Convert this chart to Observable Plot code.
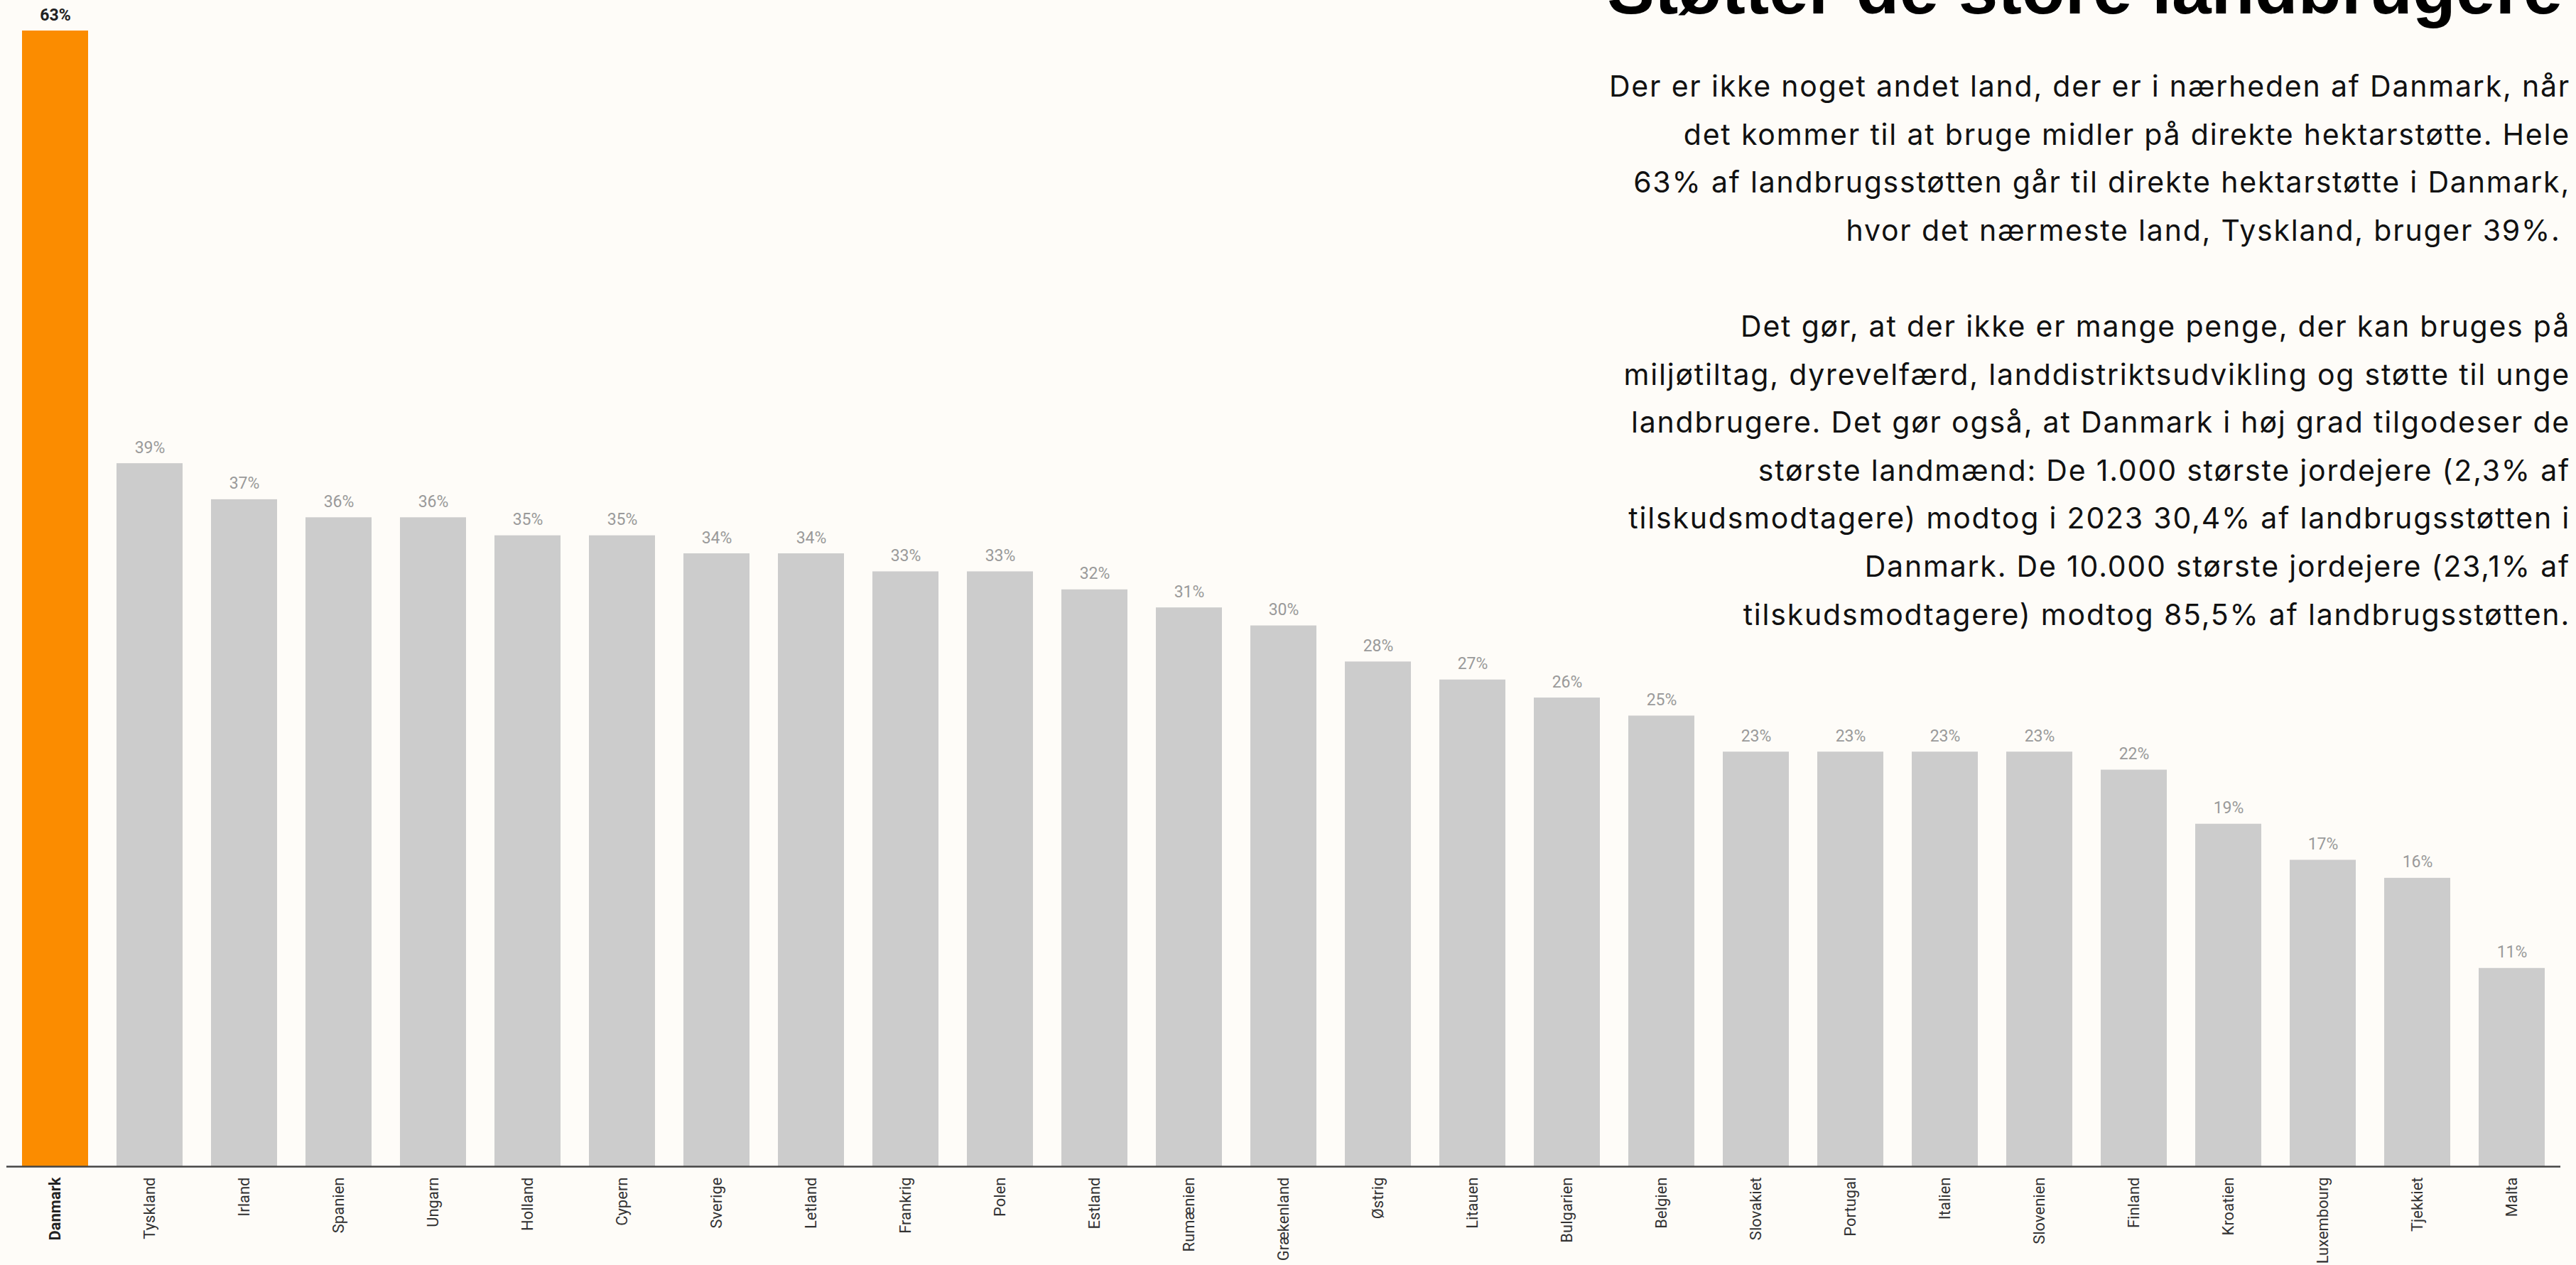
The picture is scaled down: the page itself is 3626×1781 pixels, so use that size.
<!DOCTYPE html>
<html>
<head>
<meta charset="utf-8">
<script src="https://cdn.jsdelivr.net/npm/d3@7"></script>
<script src="https://cdn.jsdelivr.net/npm/@observablehq/plot@0.6"></script>
<style>
  html, body { margin: 0; padding: 0; background: #fefcf8; overflow: hidden; }
  #wrap { position: relative; width: 3626px; height: 1781px; }
  #chart { position: absolute; left: 0; top: 0; }
  #title {
    position: absolute; right: 19px; top: -66px;
    font-family: "Liberation Sans", Arial, sans-serif; font-weight: bold;
    font-size: 100px; line-height: 1; color: #000; white-space: nowrap;
  }
  #text {
    position: absolute; right: 8px; top: 88px;
    font-family: Inter, sans-serif; font-size: 41px; line-height: 67.6px;
    letter-spacing: 1.8px; color: #111; text-align: right; white-space: nowrap;
  }
</style>
</head>
<body>
<div id="wrap">
  <div id="chart"></div>
  <div id="title">Støtter de store landbrugere</div>
  <div id="text">
    Der er ikke noget andet land, der er i nærheden af Danmark, når<br>
    det kommer til at bruge midler på direkte hektarstøtte. Hele<br>
    63% af landbrugsstøtten går til direkte hektarstøtte i Danmark,<br>
    hvor det nærmeste land, Tyskland, bruger 39%.&nbsp;<br>
    <br>
    Det gør, at der ikke er mange penge, der kan bruges på<br>
    miljøtiltag, dyrevelfærd, landdistriktsudvikling og støtte til unge<br>
    landbrugere. Det gør også, at Danmark i høj grad tilgodeser de<br>
    største landmænd: De 1.000 største jordejere (2,3% af<br>
    tilskudsmodtagere) modtog i 2023 30,4% af landbrugsstøtten i<br>
    Danmark. De 10.000 største jordejere (23,1% af<br>
    tilskudsmodtagere) modtog 85,5% af landbrugsstøtten.
  </div>
</div>
<script>
const countries = ["Danmark","Tyskland","Irland","Spanien","Ungarn","Holland","Cypern","Sverige","Letland","Frankrig","Polen","Estland","Rumænien","Grækenland","Østrig","Litauen","Bulgarien","Belgien","Slovakiet","Portugal","Italien","Slovenien","Finland","Kroatien","Luxembourg","Tjekkiet","Malta"];
const values = [63,39,37,36,36,35,35,34,34,33,33,32,31,30,28,27,26,25,23,23,23,23,22,19,17,16,11];
const highlight = "Danmark";

const data = countries.map((land, i) => ({land, value: values[i]}));
const hi = data.filter(d => d.land === highlight);
const rest = data.filter(d => d.land !== highlight);

const chart = Plot.plot({
  width: 3626,
  height: 1781,
  marginTop: 43,
  marginBottom: 139,
  marginLeft: 9,
  marginRight: 22,
  style: {background: "transparent", fontFamily: "Roboto, sans-serif", overflow: "visible"},
  x: {domain: countries, paddingInner: 0.3, paddingOuter: 0.15, axis: null},
  y: {domain: [0, 63], axis: null},
  marks: [
    Plot.barY(rest, {x: "land", y: "value", fill: "#cccccc"}),
    Plot.barY(hi, {x: "land", y: "value", fill: "#fb8c00"}),
    Plot.ruleY([0], {stroke: "#444", strokeWidth: 2.5}),
    Plot.text(rest, {x: "land", y: "value", text: d => d.value + "%", dy: -15, lineAnchor: "bottom", fill: "#9a9a9a", fontSize: 23}),
    Plot.text(hi, {x: "land", y: "value", text: d => d.value + "%", dy: -15, lineAnchor: "bottom", fill: "#222", fontSize: 23, fontWeight: "bold"}),
    Plot.axisX(countries.filter(c => c !== highlight), {tickRotate: -90, tickSize: 0, tickPadding: 15, fontSize: 22, fill: "#333", label: null}),
    Plot.axisX([highlight], {tickRotate: -90, tickSize: 0, tickPadding: 15, fontSize: 22, fill: "#222", fontWeight: "bold", label: null})
  ]
});
document.getElementById("chart").appendChild(chart);
</script>
</body>
</html>
